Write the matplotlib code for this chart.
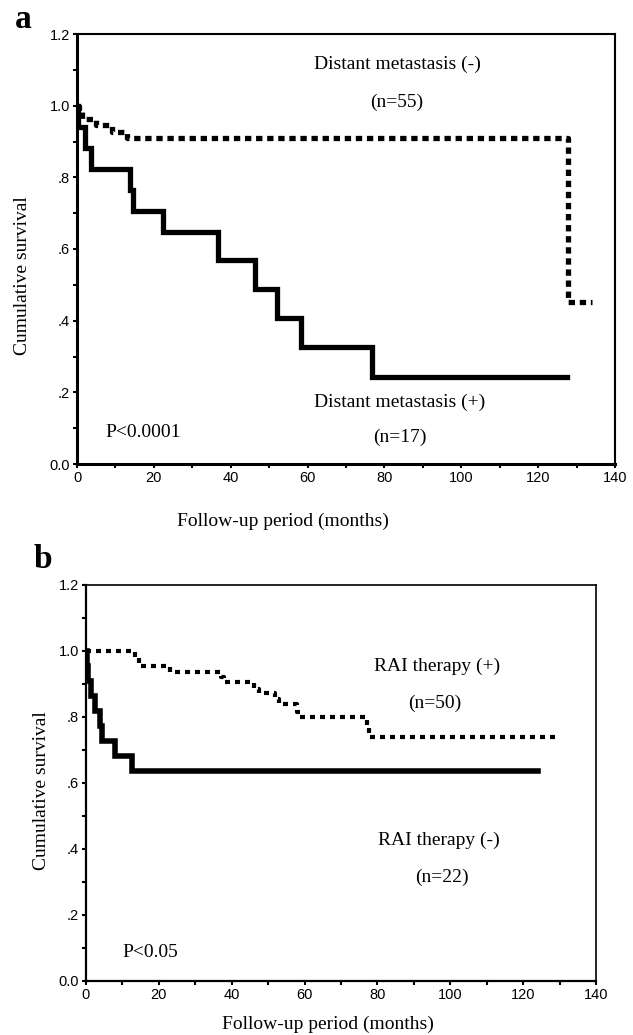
import matplotlib
matplotlib.use("Agg")
import matplotlib.pyplot as plt

W, H = 633, 1035

# panel a: distant metastasis
a_neg_t = [0, 0.5, 1.2, 5, 9, 13, 127.8, 134]
a_neg_s = [1.0, 0.982, 0.964, 0.945, 0.927, 0.909, 0.452, 0.452]
a_pos_t = [0, 0.3, 2.0, 3.6, 13.8, 14.6, 22.4, 36.7, 46.4, 52.0, 58.3, 76.8, 127.5]
a_pos_s = [1.0, 0.941, 0.882, 0.824, 0.765, 0.706, 0.647, 0.569, 0.488, 0.407, 0.326, 0.244, 0.244]

# panel b: RAI therapy
b_pos_t = [0, 13.5, 14.6, 23, 37, 38, 46, 47.5, 52, 53, 58, 58.8, 77, 77.6, 129]
b_pos_s = [1.0, 0.98, 0.955, 0.936, 0.92, 0.907, 0.885, 0.874, 0.855, 0.84, 0.815, 0.80, 0.77, 0.74, 0.74]
b_neg_t = [0, 0.3, 0.6, 1.5, 2.5, 3.8, 4.3, 8.0, 12.6, 124]
b_neg_s = [1.0, 0.955, 0.909, 0.864, 0.818, 0.773, 0.727, 0.682, 0.636, 0.636]

y_ticks = [0, 0.2, 0.4, 0.6, 0.8, 1.0, 1.2]
y_labels = ["0.0", ".2", ".4", ".6", ".8", "1.0", "1.2"]
x_ticks = [0, 20, 40, 60, 80, 100, 120, 140]
x_labels = ["0", "20", "40", "60", "80", "100", "120", "140"]

serif = "Liberation Serif"
sans = "Liberation Sans"
fs = 14


def make_axes(fig, x0, y0, x1, y1, lw_main, lw_box):
    ax = fig.add_axes([x0 / W, 1 - y1 / H, (x1 - x0) / W, (y1 - y0) / H])
    ax.set_xlim(0, 140)
    ax.set_ylim(0, 1.2)
    ax.set_xticks(x_ticks)
    ax.set_xticklabels(x_labels, fontfamily=sans, fontsize=10.5)
    ax.set_yticks(y_ticks)
    ax.set_yticklabels(y_labels, fontfamily=sans, fontsize=10.5)
    ax.set_xticks(range(10, 140, 20), minor=True)
    ax.set_yticks([0.1, 0.3, 0.5, 0.7, 0.9, 1.1], minor=True)
    ax.tick_params(which="both", direction="out", length=3, width=1.5, pad=2, colors="black")
    ax.spines["left"].set_linewidth(lw_main)
    ax.spines["bottom"].set_linewidth(lw_main)
    ax.spines["top"].set_linewidth(lw_box)
    ax.spines["right"].set_linewidth(lw_box)
    return ax


fig = plt.figure(figsize=(W / 100, H / 100), dpi=100)

# ---- panel a
ax = make_axes(fig, 77, 34, 615, 464, 2.2, 1.5)
ax.step(a_pos_t, a_pos_s, where="post", color="black", lw=3.8, solid_joinstyle="miter")
ax.step(a_neg_t, a_neg_s, where="post", color="black", lw=3.8, dashes=(1.2, 0.9))
ax.text(83.5, 1.114, "Distant metastasis (-)", ha="center", va="center", fontfamily=serif, fontsize=fs)
ax.text(83.3, 1.01, "(n=55)", ha="center", va="center", fontfamily=serif, fontsize=fs)
ax.text(84, 0.173, "Distant metastasis (+)", ha="center", va="center", fontfamily=serif, fontsize=fs)
ax.text(84, 0.073, "(n=17)", ha="center", va="center", fontfamily=serif, fontsize=fs)
ax.text(7.3, 0.087, "P<0.0001", ha="left", va="center", fontfamily=serif, fontsize=fs)
fig.text(23 / W, 1 - 276 / H, "Cumulative survival", rotation=90, ha="center", va="center",
         fontfamily=serif, fontsize=fs)
fig.text(283 / W, 1 - 521 / H, "Follow-up period (months)", ha="center", va="center",
         fontfamily=serif, fontsize=fs)
fig.text(23 / W, 1 - 20 / H, "a", ha="center", va="center", fontfamily=serif, fontsize=24, fontweight="bold")

# ---- panel b
ax = make_axes(fig, 86, 585, 596, 981, 1.6, 1.2)
ax.step(b_neg_t, b_neg_s, where="post", color="black", lw=4.0, solid_joinstyle="miter")
ax.step(b_pos_t, b_pos_s, where="post", color="black", lw=3.0, dashes=(1.2, 1.2))
ax.text(96.3, 0.952, "RAI therapy (+)", ha="center", va="center", fontfamily=serif, fontsize=fs)
ax.text(95.8, 0.842, "(n=50)", ha="center", va="center", fontfamily=serif, fontsize=fs)
ax.text(96.9, 0.427, "RAI therapy (-)", ha="center", va="center", fontfamily=serif, fontsize=fs)
ax.text(97.7, 0.315, "(n=22)", ha="center", va="center", fontfamily=serif, fontsize=fs)
ax.text(9.9, 0.085, "P<0.05", ha="left", va="center", fontfamily=serif, fontsize=fs)
fig.text(42 / W, 1 - 791 / H, "Cumulative survival", rotation=90, ha="center", va="center",
         fontfamily=serif, fontsize=fs)
fig.text(328 / W, 1 - 1024 / H, "Follow-up period (months)", ha="center", va="center",
         fontfamily=serif, fontsize=fs)
fig.text(43 / W, 1 - 560 / H, "b", ha="center", va="center", fontfamily=serif, fontsize=24, fontweight="bold")

fig.savefig("out.png", dpi=100)
